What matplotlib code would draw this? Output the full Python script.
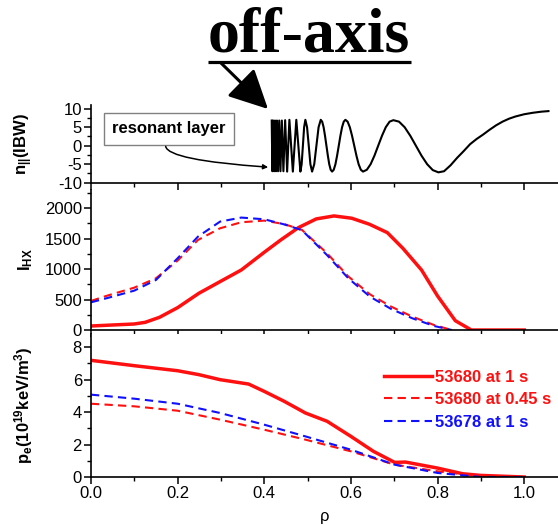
import numpy as np
import matplotlib.pyplot as plt
from matplotlib.patches import FancyArrowPatch
from matplotlib.ticker import MultipleLocator

plt.rcParams['font.family'] = ['Liberation Sans', 'DejaVu Sans']
plt.rcParams['axes.unicode_minus'] = False
plt.rcParams['mathtext.fontset'] = 'custom'
plt.rcParams['mathtext.rm'] = 'Liberation Sans:bold'
plt.rcParams['mathtext.it'] = 'Liberation Sans:bold'
plt.rcParams['mathtext.bf'] = 'Liberation Sans:bold'

# IBW parallel refractive index along the ray
rho_ibw = [0.4172, 0.4188, 0.4207, 0.4227, 0.4248, 0.4270, 0.4293, 0.4318,
           0.4345, 0.4374, 0.4406, 0.4442, 0.4482, 0.4528, 0.458, 0.462,
           0.466, 0.470, 0.474, 0.4787, 0.4834, 0.4863, 0.4892, 0.4920,
           0.4949, 0.4988, 0.5027, 0.5065, 0.5104, 0.5154, 0.5204, 0.5254,
           0.5304, 0.5337, 0.5370, 0.5402, 0.5435, 0.5468, 0.5500, 0.5533,
           0.5566, 0.5604, 0.5643, 0.5681, 0.5720, 0.5758, 0.5796, 0.5835,
           0.5873, 0.5924, 0.5975, 0.6026, 0.6077, 0.6128, 0.6178, 0.6229,
           0.628, 0.6368, 0.6455, 0.6543, 0.663, 0.6718, 0.6805, 0.6893,
           0.698, 0.711, 0.724, 0.737, 0.750, 0.763, 0.776, 0.789,
           0.802, 0.815, 0.830, 0.845, 0.860, 0.875, 0.890, 0.905,
           0.920, 0.935, 0.950, 0.965, 0.980, 1.000, 1.020, 1.040, 1.056]
n_par_ibw = [6.8, -6.9, 6.8, -6.9, 6.8, -6.9, 6.8, -6.9,
             6.8, -6.9, 6.8, -6.9, 6.9, -7.0, 7.0, 0.0,
             -7.0, 0.0, 7.0, 0.0, -7.0, -5.0, 0.0, 5.0,
             7.0, 5.0, 0.0, -5.0, -7.0, -5.0, 0.0, 5.0,
             7.0, 6.5, 5.0, 2.7, 0.0, -2.7, -5.0, -6.5,
             -7.0, -6.5, -5.0, -2.7, 0.0, 2.7, 5.0, 6.5,
             7.0, 6.5, 5.0, 2.7, 0.0, -2.7, -5.0, -6.5,
             -7.0, -6.5, -5.0, -2.7, 0.0, 2.7, 5.0, 6.5,
             6.9, 6.5, 5.0, 2.7, 0.0, -2.7, -5.0, -6.6,
             -7.2, -6.9, -5.3, -3.3, -1.5, 0.4, 1.8, 3.0,
             4.3, 5.5, 6.5, 7.3, 7.9, 8.5, 8.9, 9.2, 9.35]

# hard X-ray intensity profiles
rho_hx_1s = [0.0, 0.1, 0.125, 0.158, 0.2, 0.249, 0.298, 0.347, 0.4, 0.438,
             0.479, 0.52, 0.561, 0.602, 0.643, 0.684, 0.72, 0.763, 0.8,
             0.841, 0.878, 1.0]
ihx_53680_1s = [66, 99, 126, 208, 367, 603, 795, 986, 1277, 1479,
                1682, 1825, 1874, 1836, 1737, 1600, 1342, 986, 559,
                153, 0, 0]
rho_hx = [0.0, 0.035, 0.1, 0.15, 0.2, 0.247, 0.298, 0.347, 0.4, 0.446,
          0.487, 0.545, 0.594, 0.644, 0.693, 0.742, 0.792, 0.833]
ihx_53680_045s = [477, 559, 696, 849, 1140, 1479, 1671, 1770, 1797, 1740,
                  1645, 1260, 880, 586, 384, 219, 82, 0]
ihx_53678_1s = [455, 520, 647, 822, 1178, 1534, 1781, 1847, 1819, 1735,
                1640, 1230, 850, 548, 345, 192, 66, 0]

# electron pressure profiles
rho_pe = [0.0, 0.1, 0.2, 0.249, 0.298, 0.364, 0.4, 0.446, 0.495, 0.545,
          0.6, 0.652, 0.701, 0.726, 0.8, 0.858, 0.899, 1.0]
pe_53680_1s = [7.18, 6.85, 6.54, 6.3, 5.99, 5.72, 5.27, 4.66, 3.94, 3.43,
               2.5, 1.58, 0.9, 0.92, 0.55, 0.2, 0.1, 0.0]
rho_pe2 = [0.0, 0.1, 0.2, 0.298, 0.4, 0.495, 0.6, 0.701, 0.8, 0.9, 1.0]
pe_53680_045s = [4.51, 4.35, 4.08, 3.53, 2.91, 2.3, 1.58, 0.76, 0.35, 0.04, 0.0]
pe_53678_1s = [5.07, 4.82, 4.51, 3.94, 3.22, 2.5, 1.68, 0.76, 0.25, 0.0, 0.0]

RED = '#ff1010'
BLUE = '#1010ff'

fig = plt.figure(figsize=(5.58, 5.25), dpi=100)
ax1 = fig.add_axes([0.163, 0.652, 0.837, 0.148])
ax2 = fig.add_axes([0.163, 0.3714, 0.837, 0.2667])
ax3 = fig.add_axes([0.163, 0.0914, 0.837, 0.2724])

for ax in (ax1, ax2, ax3):
    ax.set_xlim(0, 1.078)
    for s in ('top', 'right'):
        ax.spines[s].set_visible(False)
    for s in ('left', 'bottom'):
        ax.spines[s].set_linewidth(1.2)
    ax.xaxis.set_major_locator(MultipleLocator(0.2))
    ax.xaxis.set_minor_locator(MultipleLocator(0.1))
    ax.tick_params(which='major', length=5, width=1.1, labelsize=12, pad=1.5)
    ax.tick_params(which='minor', length=3, width=1.0)
    ax.yaxis.set_label_coords(-0.12, 0.5)

ax1.plot(rho_ibw, n_par_ibw, color='black', lw=1.5)
ax1.set_ylim(-10, 11)
ax1.yaxis.set_major_locator(MultipleLocator(5))
ax1.yaxis.set_minor_locator(MultipleLocator(2.5))
ax1.tick_params(labelbottom=False)
ax1.set_ylabel('n$_{||}$(IBW)', fontsize=12, fontweight='bold')

ax1.text(0.18, 4.6, 'resonant layer', fontsize=12, fontweight='bold',
         ha='center', va='center',
         bbox=dict(boxstyle='square,pad=0.5', fc='white', ec='#808080', lw=1))
ax1.annotate('', xy=(0.409, -5.8), xytext=(0.1725, -0.2),
             arrowprops=dict(arrowstyle='-|>', color='black', lw=1.1,
                             mutation_scale=7, shrinkA=0, shrinkB=0,
                             connectionstyle='angle3,angleA=-80,angleB=-4'))

ax2.plot(rho_hx_1s, ihx_53680_1s, color=RED, lw=2.5)
ax2.plot(rho_hx, ihx_53680_045s, color=RED, lw=1.5, dashes=(4, 2.5))
ax2.plot(rho_hx, ihx_53678_1s, color=BLUE, lw=1.5, dashes=(4, 2.5))
ax2.set_ylim(0, 2300)
ax2.yaxis.set_major_locator(MultipleLocator(500))
ax2.yaxis.set_minor_locator(MultipleLocator(250))
ax2.tick_params(labelbottom=False)
ax2.set_ylabel('I$_{HX}$', fontsize=12, fontweight='bold')

ax3.plot(rho_pe, pe_53680_1s, color=RED, lw=2.5, label='53680 at 1 s')
ax3.plot(rho_pe2, pe_53680_045s, color=RED, lw=1.5, dashes=(4, 2.5),
         label='53680 at 0.45 s')
ax3.plot(rho_pe2, pe_53678_1s, color=BLUE, lw=1.5, dashes=(4, 2.5),
         label='53678 at 1 s')
ax3.set_ylim(0, 8.8)
ax3.yaxis.set_major_locator(MultipleLocator(2))
ax3.yaxis.set_minor_locator(MultipleLocator(1))
ax3.set_xticks([0.0, 0.2, 0.4, 0.6, 0.8, 1.0])
ax3.set_xticklabels(['0.0', '0.2', '0.4', '0.6', '0.8', '1.0'])
ax3.set_xlabel('ρ', fontsize=12, labelpad=6)
ax3.set_ylabel('p$_e$(10$^{19}$keV/m$^3$)', fontsize=12, fontweight='bold')

ax3.legend(loc='upper left', bbox_to_anchor=(0.627, 0.75),
           frameon=False, borderpad=0, borderaxespad=0,
           handlelength=2.9, handletextpad=0.2, labelspacing=0.45,
           prop={'weight': 'bold', 'size': 12}, labelcolor='linecolor')

# headline and pointer above the plots, in pixel coordinates
over = fig.add_axes([0, 0, 1, 1], zorder=10)
over.set_xlim(0, 558)
over.set_ylim(525, 0)
over.axis('off')
over.patch.set_alpha(0)
over.text(309, 52, 'off-axis', family='Liberation Serif', fontweight='bold',
          fontsize=46, ha='center', va='baseline')
over.plot([208, 411], [62, 62], color='black', lw=2.3, solid_capstyle='butt')
over.add_patch(FancyArrowPatch((221, 63), (268, 109),
                               arrowstyle='-|>,head_length=1.2,head_width=0.6',
                               mutation_scale=20, color='black', lw=2.2,
                               shrinkA=0, shrinkB=0))

fig.savefig('out.png', dpi=100)
